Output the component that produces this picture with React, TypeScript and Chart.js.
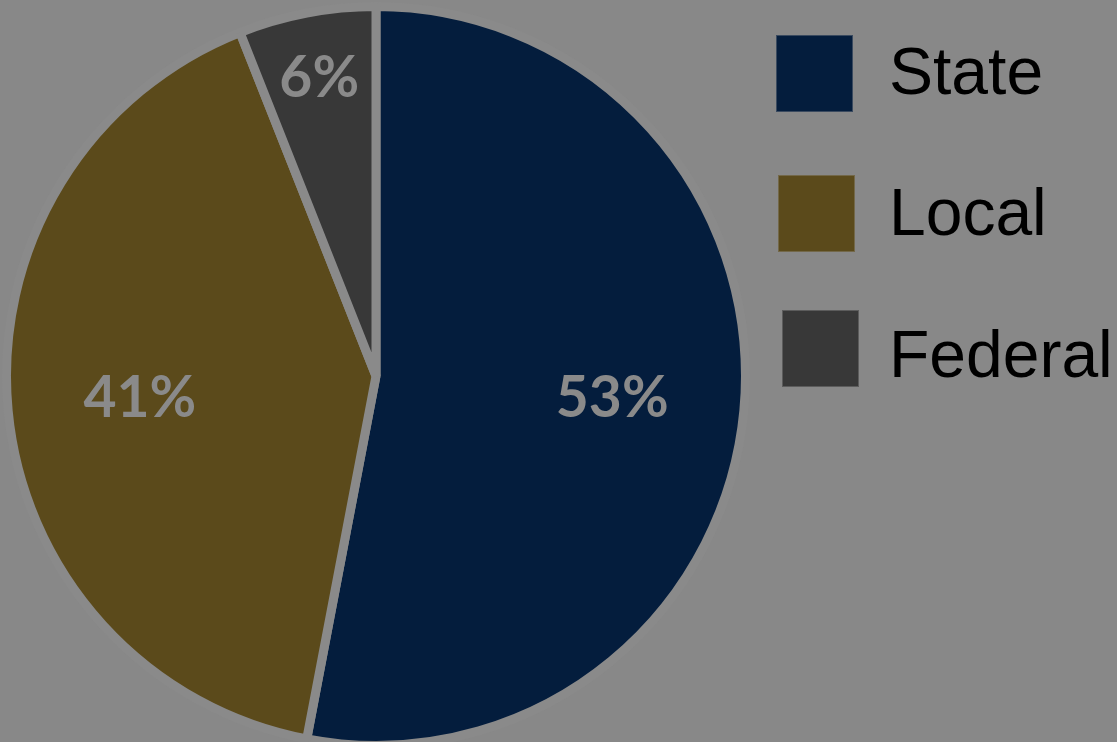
import React, { useEffect, useRef } from "react";
import { Chart, registerables } from "chart.js";

Chart.register(...registerables);

const categories = ["State", "Local", "Federal"];
const shares = [53, 41, 6];
const colors = ["#041d3d", "#5b4a1b", "#383838"];
const percentLabels = ["53%", "41%", "6%"];

const BG = "#888888";

export default function App() {
  const ref = useRef<HTMLCanvasElement | null>(null);

  useEffect(() => {
    if (!ref.current) return;
    const labelPlugin = {
      id: "sliceLabels",
      afterDatasetsDraw(chart: any) {
        const ctx = chart.ctx;
        const meta = chart.getDatasetMeta(0);
        ctx.save();
        ctx.font = "bold 57px Lato";
        ctx.fillStyle = "#8a8a8a";
        ctx.textAlign = "center";
        ctx.textBaseline = "middle";
        meta.data.forEach((arc: any, i: number) => {
          const p = arc.getProps(["x", "y", "startAngle", "endAngle", "outerRadius"], true);
          const mid = (p.startAngle + p.endAngle) / 2;
          const r = p.outerRadius - 4.5;
          const f = shares[i] < 10 ? 0.83 : 0.65;
          const x = p.x + Math.cos(mid) * r * f;
          const y = p.y + Math.sin(mid) * r * f;
          ctx.fillText(percentLabels[i], x, y);
        });
        ctx.restore();
      },
    };
    const legendPlugin = {
      id: "bigLegend",
      afterDraw(chart: any) {
        const ctx = chart.ctx;
        const ds = chart.data.datasets[0];
        const boxX = [776, 778, 782];
        const boxY = [35, 175, 310];
        const textY = [94, 235, 377];
        ctx.save();
        ctx.font = "66px 'Liberation Sans', Arial, sans-serif";
        ctx.textBaseline = "alphabetic";
        ctx.textAlign = "left";
        chart.data.labels.forEach((lab: string, i: number) => {
          const size = 77;
          ctx.fillStyle = ds.backgroundColor[i];
          ctx.fillRect(boxX[i], boxY[i], size, size);
          ctx.strokeStyle = "rgba(160,160,160,0.35)";
          ctx.lineWidth = 1;
          ctx.strokeRect(boxX[i] + 0.5, boxY[i] + 0.5, size - 1, size - 1);
          ctx.fillStyle = "#000000";
          ctx.fillText(lab, 889, textY[i]);
        });
        ctx.restore();
      },
    };
    const chart = new Chart(ref.current, {
      type: "pie",
      data: {
        labels: categories,
        datasets: [
          {
            data: shares,
            backgroundColor: colors,
            borderColor: "#8a8a8a",
            borderWidth: 9,
          },
        ],
      },
      options: {
        responsive: false,
        animation: false,
        layout: { padding: { left: 2, top: 2, right: 367, bottom: 10 } },
        plugins: {
          legend: { display: false },
          tooltip: { enabled: false },
        },
      },
      plugins: [labelPlugin, legendPlugin],
    });
    return () => chart.destroy();
  }, []);

  return (
    <div
      style={{
        position: "fixed",
        left: 0,
        top: 0,
        width: 1117,
        height: 742,
        background: BG,
        overflow: "hidden",
      }}
    >
      <canvas ref={ref} width={1117} height={760} style={{ display: "block" }} />
    </div>
  );
}
